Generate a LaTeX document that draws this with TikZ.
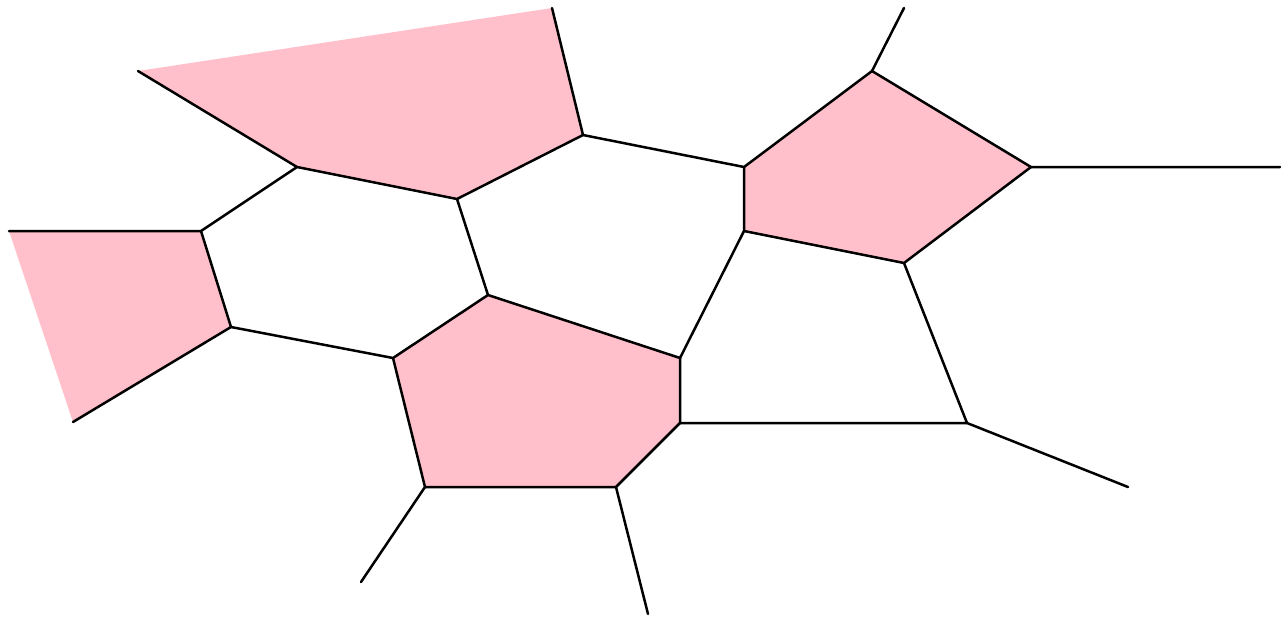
\documentclass[tikz,border=0pt]{standalone}
\definecolor{cellpink}{RGB}{255,192,203}
\begin{document}
\begin{tikzpicture}[x=0.5pt,y=-0.5pt,
  edge/.style={line width=1.25pt,black,line cap=round,line join=round},
  cell/.style={fill=cellpink,draw=none}]
\useasboundingbox (0,0) rectangle (1281,617);
\coordinate (A) at (138,71);
\coordinate (B) at (552,8);
\coordinate (C) at (583,135);
\coordinate (D) at (457,199);
\coordinate (E) at (297,167);
\coordinate (F) at (201,231);
\coordinate (G) at (9,231);
\coordinate (H) at (231,327);
\coordinate (I) at (73,422);
\coordinate (J) at (393,358);
\coordinate (K) at (488,295);
\coordinate (L) at (680,358);
\coordinate (M) at (680,423);
\coordinate (N) at (616,487);
\coordinate (O) at (425,487);
\coordinate (P) at (361,582);
\coordinate (Q) at (648,614);
\coordinate (R) at (744,167);
\coordinate (S) at (872,71);
\coordinate (T) at (904,8);
\coordinate (U) at (1031,167);
\coordinate (V) at (1280,167);
\coordinate (W) at (904,263);
\coordinate (X) at (744,231);
\coordinate (Y) at (967,423);
\coordinate (Z) at (1128,487);
% pink cells
\fill[cell] (A) -- (B) -- (C) -- (D) -- (E) -- cycle;
\fill[cell] (G) -- (F) -- (H) -- (I) -- cycle;
\fill[cell] (J) -- (K) -- (L) -- (M) -- (N) -- (O) -- cycle;
\fill[cell] (R) -- (S) -- (U) -- (W) -- (X) -- cycle;
% edges
\draw[edge] (A) -- (E) -- (D) -- (C) -- (B);
\draw[edge] (E) -- (F) -- (G);
\draw[edge] (F) -- (H) -- (I);
\draw[edge] (H) -- (J) -- (K) -- (D);
\draw[edge] (K) -- (L) -- (M) -- (N) -- (O) -- (J);
\draw[edge] (O) -- (P);
\draw[edge] (N) -- (Q);
\draw[edge] (C) -- (R) -- (S) -- (T);
\draw[edge] (S) -- (U) -- (V);
\draw[edge] (U) -- (W) -- (X) -- (R);
\draw[edge] (X) -- (L);
\draw[edge] (M) -- (Y) -- (W);
\draw[edge] (Y) -- (Z);
\end{tikzpicture}
\end{document}
